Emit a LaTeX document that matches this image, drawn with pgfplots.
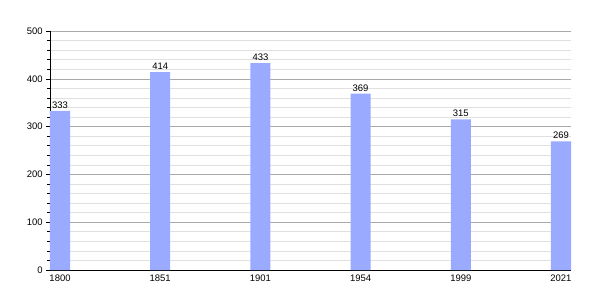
\documentclass[border=0pt]{standalone}
\usepackage{fontspec}
\setmainfont{Liberation Sans}
\usepackage{pgfplots}
\pgfplotsset{compat=1.18}
\definecolor{barblue}{RGB}{153,170,255}
\definecolor{majgrid}{RGB}{170,170,170}
\definecolor{mingrid}{RGB}{224,224,224}
\begin{document}
\fontsize{9.5}{11}\selectfont
\begin{tikzpicture}
\path[use as bounding box] (-50bp,-30bp) rectangle (550bp,270bp);
\begin{axis}[
  at={(0,0)}, anchor=south west,
  scale only axis, width=521bp, height=239bp,
  xmin=-0.1, xmax=5.1, ymin=0, ymax=500,
  axis x line=bottom, axis y line=left,
  axis line style={black, line width=0.8pt, -},
  xtick={0,1,2,3,4,5},
  xticklabels={1800,1851,1901,1954,1999,2021},
  x tick label style={yshift=2pt},
  major x tick style={draw=none},
  ytick={0,100,...,500},
  minor ytick={20,40,...,480},
  ymajorgrids, yminorgrids,
  major grid style={majgrid, line width=0.6pt},
  minor grid style={mingrid, line width=0.6pt},
  tick align=outside,
  major tick length=4bp, minor tick length=3bp,
  y tick style={black, line width=0.6pt},
  every tick label/.append style={font=\fontsize{9.5}{11}\selectfont},
  /pgf/number format/assume math mode=true,
  ybar, bar width=20.04bp,
  nodes near coords,
  every node near coord/.append style={font=\fontsize{9.5}{11}\selectfont, yshift=-1pt},
  clip=false,
  axis on top=false,
]
\addplot[fill=barblue, draw=none] coordinates {(0,333) (1,414) (2,433) (3,369) (4,315) (5,269)};
\end{axis}
\end{tikzpicture}
\end{document}
